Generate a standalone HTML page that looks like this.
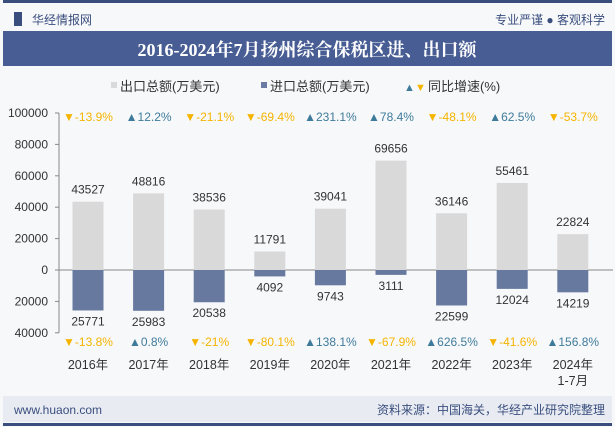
<!DOCTYPE html>
<html><head><meta charset="utf-8"><style>
body{margin:0;width:615px;height:427px;overflow:hidden;background:#fff;font-family:"Liberation Sans","Noto Sans CJK SC",sans-serif;}
</style></head><body>
<svg id="c" width="615" height="427" xmlns="http://www.w3.org/2000/svg">
<rect x="0" y="0" width="615" height="427" fill="#f7f8fa"/>
<rect x="3" y="0" width="609" height="3" fill="#3a4e7e"/>
<rect x="14" y="12" width="8" height="14" fill="#3a4e7e"/>
<text x="32" y="24" font-size="12" fill="#3a4e7e">华经情报网</text>
<text x="605" y="24" font-size="12" fill="#3a4e7e" text-anchor="end">专业严谨 ● 客观科学</text>
<rect x="3" y="31" width="609" height="35" fill="#475d93"/>
<text x="307" y="56" font-size="18" font-weight="bold" fill="#fff" text-anchor="middle" font-family="Liberation Serif,Noto Serif CJK SC,serif">2016-2024年7月扬州综合保税区进、出口额</text>
<g>
<rect x="111" y="82" width="6" height="6" fill="#d9d9d9"/>
<text x="120" y="91" font-size="13" fill="#333">出口总额(万美元)</text>
<rect x="261" y="82" width="6" height="6" fill="#6b7ba3"/>
<text x="270" y="91" font-size="13" fill="#333">进口总额(万美元)</text>
<text x="404" y="91" font-size="11" fill="#3e7b9b">▲</text>
<text x="415" y="91" font-size="11" fill="#f5b400">▼</text>
<text x="428" y="91" font-size="13" fill="#333">同比增速(%)</text>
</g>
<g id="plot"></g>
<rect x="3" y="396" width="609" height="26" fill="#e8ecf2"/>
<text x="14" y="414" font-size="12" fill="#3a4e7e">www.huaon.com</text>
<text x="605" y="414" font-size="12" fill="#3a4e7e" text-anchor="end">资料来源：中国海关，华经产业研究院整理</text>
<rect x="3" y="423" width="609" height="3" fill="#3a4e7e"/>
</svg>
<script>
const categories=["2016年","2017年","2018年","2019年","2020年","2021年","2022年","2023年","2024年"];
const exportVals=[43527,48816,38536,11791,39041,69656,36146,55461,22824];
const importVals=[25771,25983,20538,4092,9743,3111,22599,12024,14219];
const exportGrowth=[-13.9,12.2,-21.1,-69.4,231.1,78.4,-48.1,62.5,-53.7];
const importGrowth=[-13.8,0.8,-21,-80.1,138.1,-67.9,626.5,-41.6,156.8];
const yTicks=[100000,80000,60000,40000,20000,0,-20000,-40000];
const NS="http://www.w3.org/2000/svg";
const g=document.getElementById('plot');
const x0=59,step=60.6,zeroY=270,k=157/100000;
const xc=i=>88+i*step;
const y=v=>zeroY-v*k;
function mk(t,a,txt){const e=document.createElementNS(NS,t);for(const n in a)e.setAttribute(n,a[n]);if(txt!=null)e.textContent=txt;g.appendChild(e);return e;}
let e=mk('line',{x1:x0,y1:y(100000),x2:x0,y2:y(-40000),stroke:'#888'});


e=mk('line',{x1:x0,y1:zeroY,x2:613,y2:zeroY,stroke:'#888'});


yTicks.forEach(t=>{
 e=mk('text',{x:48,y:y(t)+4,'font-size':12,fill:'#333','text-anchor':'end'},String(Math.abs(t)));
 
 
 e=mk('line',{x1:x0-4,y1:y(t),x2:x0,y2:y(t),stroke:'#888'});
 
 
});
categories.forEach((c,i)=>{
 const cx=xc(i),w=31;
 e=mk('rect',{x:cx-w/2,y:y(exportVals[i]),width:w,height:zeroY-y(exportVals[i]),fill:'#d9d9d9'});
 
 
 e=mk('rect',{x:cx-w/2,y:zeroY,width:w,height:importVals[i]*k,fill:'#67799f'});
 
 
 e=mk('text',{x:cx,y:y(exportVals[i])-8,'font-size':12,fill:'#333','text-anchor':'middle'},String(exportVals[i]));
 
 
 e=mk('text',{x:cx,y:zeroY+importVals[i]*k+15,'font-size':12,fill:'#333','text-anchor':'middle'},String(importVals[i]));
 
 
 const eg=exportGrowth[i],ig=importGrowth[i];
 e=mk('text',{x:cx,y:121,'font-size':12,fill:eg<0?'#f5b400':'#3e7b9b','text-anchor':'middle'},(eg<0?'▼':'▲')+eg+'%');
 
 
 e=mk('text',{x:cx,y:346,'font-size':12,fill:ig<0?'#f5b400':'#3e7b9b','text-anchor':'middle'},(ig<0?'▼':'▲')+ig+'%');
 
 
 e=mk('text',{x:cx,y:369,'font-size':12.5,fill:'#333','text-anchor':'middle'},c);
 
 
 if(i===categories.length-1){
  e=mk('text',{x:cx,y:385,'font-size':12.5,fill:'#333','text-anchor':'middle'},'1-7月');
  
  
 }
});
</script>
</body></html>
